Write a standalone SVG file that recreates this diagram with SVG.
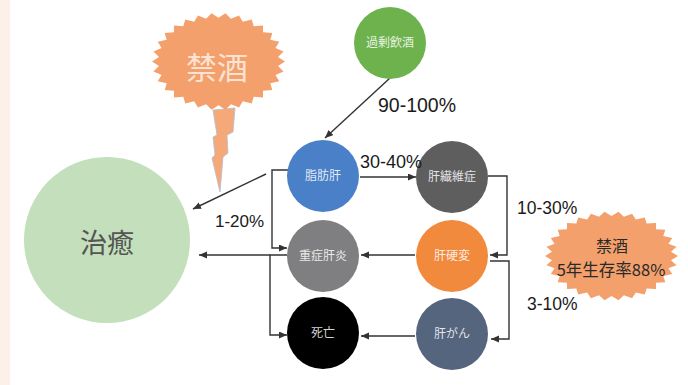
<svg xmlns="http://www.w3.org/2000/svg" width="688" height="385" viewBox="0 0 688 385">
<style>
.lbl{font-family:"Liberation Sans","Noto Sans CJK JP",sans-serif;fill:#1a1a1a}
.nt{font-family:"Noto Sans CJK JP","Liberation Sans",sans-serif;font-size:12px;fill:#ffffff;fill-opacity:0.85;text-anchor:middle}
.cn{fill:none;stroke:#333;stroke-width:1.4}
.star{fill:#f4a06c}
</style>
<defs>
<marker id="ah" markerUnits="userSpaceOnUse" markerWidth="9" markerHeight="8" refX="8" refY="3.5" orient="auto">
<path d="M0,0 L8,3.5 L0,7 z" fill="#333"/>
</marker>
<polygon id="burst" points="100,0 89.5,9.4 97.8,20.8 85.6,27.8 91.4,40.7 77.9,45 80.9,58.8 66.9,60.2 66.9,74.3 52.9,72.8 50,86.6 36.6,82.2 30.9,95.1 18.7,88 10.5,99.5 0,90 -10.5,99.5 -18.7,88 -30.9,95.1 -36.6,82.2 -50,86.6 -52.9,72.8 -66.9,74.3 -66.9,60.2 -80.9,58.8 -77.9,45 -91.4,40.7 -85.6,27.8 -97.8,20.8 -89.5,9.4 -100,0 -89.5,-9.4 -97.8,-20.8 -85.6,-27.8 -91.4,-40.7 -77.9,-45 -80.9,-58.8 -66.9,-60.2 -66.9,-74.3 -52.9,-72.8 -50,-86.6 -36.6,-82.2 -30.9,-95.1 -18.7,-88 -10.5,-99.5 0,-90 10.5,-99.5 18.7,-88 30.9,-95.1 36.6,-82.2 50,-86.6 52.9,-72.8 66.9,-74.3 66.9,-60.2 80.9,-58.8 77.9,-45 91.4,-40.7 85.6,-27.8 97.8,-20.8 89.5,-9.4"/>
</defs>
<rect x="0" y="0" width="688" height="385" fill="#ffffff"/>
<rect x="0" y="0" width="10" height="385" fill="#fdf0e8"/>

<g id="bolt">
<polygon points="213,110 235,108 233,132 227,135 228,153 223,157 220,192 212,158 215,155 213,137 217,135" fill="#f5a878" stroke="#b4bdd8" stroke-width="0.8"/>
</g>
<g id="kinshu-burst">
<use href="#burst" class="star" transform="translate(218.5,61.5) scale(0.665,0.485)"/>
<text x="217" y="79" font-family="Noto Sans CJK JP,sans-serif" font-size="31" fill="#fbe3d4" text-anchor="middle">禁酒</text>
</g>

<g id="connectors">
<line class="cn" x1="390" y1="78" x2="325" y2="138" marker-end="url(#ah)"/>
<line class="cn" x1="360" y1="177" x2="416" y2="177" marker-end="url(#ah)"/>
<polyline class="cn" points="488,176 507,176 507,255 490,255" marker-end="url(#ah)"/>
<polyline class="cn" points="490,261 509,261 509,339 491,339" marker-end="url(#ah)"/>
<line class="cn" x1="415" y1="255" x2="361" y2="255" marker-end="url(#ah)"/>
<line class="cn" x1="415" y1="336" x2="361" y2="336" marker-end="url(#ah)"/>
<polyline class="cn" points="288,170 272,170 272,248 287,248" marker-end="url(#ah)"/>
<polyline class="cn" points="287,255 270,255 270,335 287,335" marker-end="url(#ah)"/>
<line class="cn" x1="270" y1="255" x2="199" y2="255" marker-end="url(#ah)"/>
<line class="cn" x1="266" y1="174" x2="193" y2="209" marker-end="url(#ah)"/>
</g>

<g id="chiyu">
<circle cx="107" cy="240" r="83" fill="#c3dfbb"/>
<text x="107" y="253" font-family="Noto Sans CJK JP,sans-serif" font-size="27" fill="#555" text-anchor="middle">治癒</text>
</g>
<g id="kajo">
<circle cx="390" cy="43" r="36" fill="#6db24c"/>
<text class="nt" x="390" y="47">過剰飲酒</text>
</g>
<g id="shibokan">
<circle cx="323" cy="176" r="36" fill="#4a80c8"/>
<text class="nt" x="323" y="180">脂肪肝</text>
</g>
<g id="senisho">
<circle cx="452" cy="177" r="36" fill="#5e5e5e"/>
<text class="nt" x="452" y="181">肝繊維症</text>
</g>
<g id="jusho">
<circle cx="323" cy="256" r="36" fill="#7f7e80"/>
<text class="nt" x="323" y="260">重症肝炎</text>
</g>
<g id="kohen">
<circle cx="452" cy="256" r="36" fill="#f28a3e"/>
<text class="nt" x="452" y="260">肝硬変</text>
</g>
<g id="shibo">
<circle cx="323" cy="333" r="36" fill="#000000"/>
<text class="nt" x="323" y="337">死亡</text>
</g>
<g id="kangan">
<circle cx="452" cy="334" r="36" fill="#55657e"/>
<text class="nt" x="452" y="338">肝がん</text>
</g>

<g id="survival-burst">
<use href="#burst" class="star" transform="translate(611.5,256) scale(0.665,0.445)"/>
<text x="612" y="252" font-family="Noto Sans CJK JP,sans-serif" font-size="16" fill="#2a2a2a" text-anchor="middle">禁酒</text>
<text x="611" y="276" font-family="Noto Sans CJK JP,sans-serif" font-size="16.5" fill="#2a2a2a" text-anchor="middle">5年生存率88%</text>
</g>

<g id="labels">
<text class="lbl" x="378" y="112" font-size="19.5">90-100%</text>
<text class="lbl" x="360" y="168" font-size="18">30-40%</text>
<text class="lbl" x="215" y="227" font-size="17">1-20%</text>
<text class="lbl" x="517" y="214" font-size="17.5">10-30%</text>
<text class="lbl" x="527" y="310" font-size="17.5">3-10%</text>
</g>
</svg>
